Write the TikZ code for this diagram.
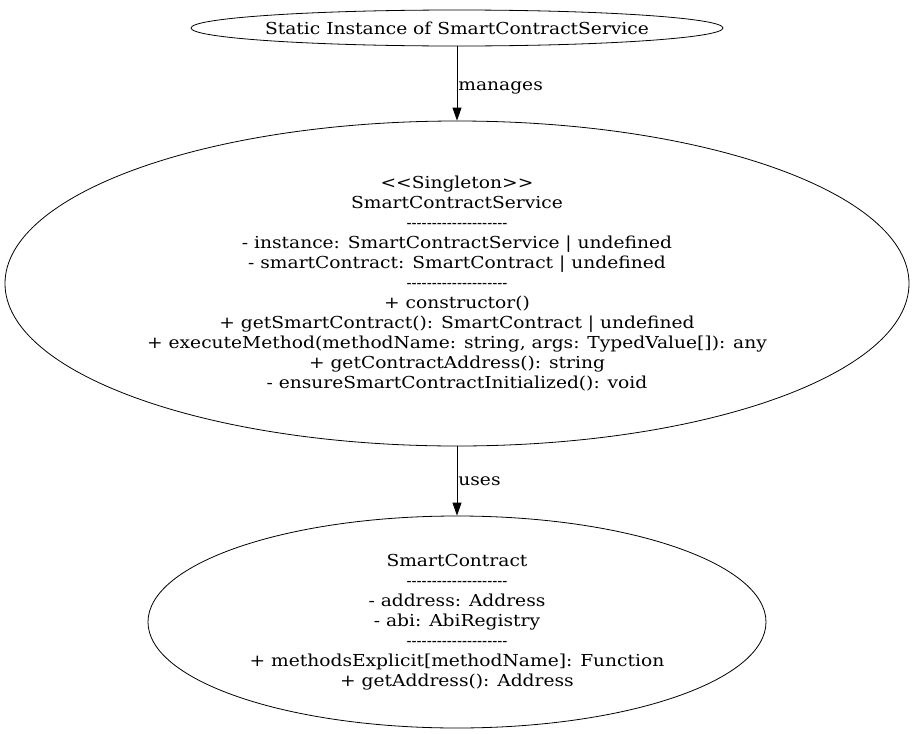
\documentclass[tikz,border=0pt]{standalone}
\usepackage{fontspec}
\setmainfont{DejaVu Serif}[Ligatures=TeXOff,FakeStretch=1.13]
\usetikzlibrary{shapes.geometric,arrows.meta}
\newcommand\sepline{\scalebox{0.8}[1]{--------------------}}
\begin{document}
\begin{tikzpicture}[x=1pt,y=-1pt,
  uml/.style={draw,line width=0.8pt,ellipse,inner sep=0pt,align=center,font=\fontsize{16.5}{20}\selectfont},
  conn/.style={-{Triangle[length=13pt,width=9pt]},line width=0.8pt},
  lbl/.style={anchor=west,inner sep=1pt,font=\fontsize{16.5}{16}\selectfont}]
\useasboundingbox (0,0) rectangle (914,734);
\node[uml,inner xsep=-12pt,minimum width=532pt,minimum height=36pt] (inst) at (457,28) {Static Instance of SmartContractService};
\node[uml,minimum width=904pt,minimum height=325pt] (svc) at (457,283.5) {{<}{<}Singleton{>}{>}\\SmartContractService\\\sepline\\- instance: SmartContractService | undefined\\- smartContract: SmartContract | undefined\\\sepline\\+ constructor()\\+ getSmartContract(): SmartContract | undefined\\+ executeMethod(methodName: string, args: TypedValue[]): any\\+ getContractAddress(): string\\- ensureSmartContractInitialized(): void};
\node[uml,minimum width=618pt,minimum height=212pt] (sc) at (457,622) {SmartContract\\\sepline\\- address: Address\\- abi: AbiRegistry\\\sepline\\+ methodsExplicit[methodName]: Function\\+ getAddress(): Address};
\draw[conn] (inst) -- node[lbl,pos=0.5,yshift=-4pt] {manages} (svc);
\draw[conn] (svc) -- node[lbl,pos=0.5] {uses} (sc);
\end{tikzpicture}
\end{document}
